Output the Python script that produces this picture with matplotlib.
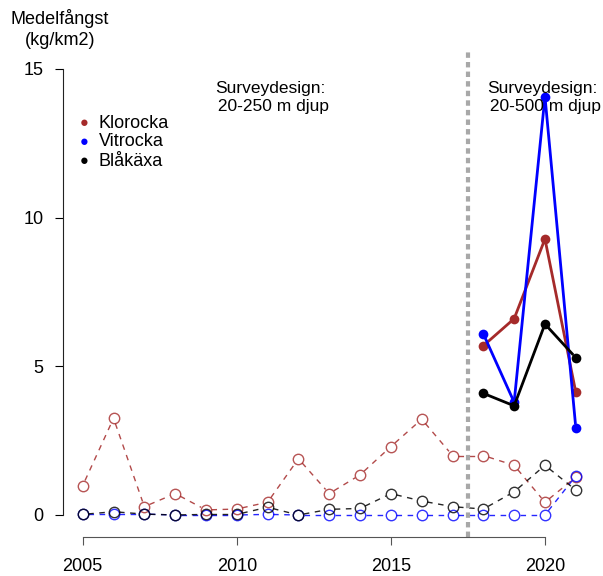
import numpy as np
import matplotlib.pyplot as plt

plt.rcParams['font.family'] = ['Liberation Sans', 'DejaVu Sans']

# old survey design (open circles, dashed)
years_old = list(range(2005, 2022))
klorocka_old = [0.99, 3.25, 0.28, 0.72, 0.17, 0.2, 0.43, 1.89, 0.72, 1.35, 2.3, 3.22, 2.0, 2.0, 1.67, 0.43, 1.27]
vitrocka_old = [0.03, 0.03, 0.03, 0.0, 0.0, 0.0, 0.02, 0.0, 0.0, 0.0, 0.0, 0.0, 0.0, 0.0, 0.0, 0.0, 1.31]
blakaxa_old = [0.02, 0.11, 0.03, 0.0, 0.02, 0.02, 0.26, 0.0, 0.19, 0.22, 0.72, 0.47, 0.28, 0.2, 0.78, 1.67, 0.84]

# new survey design (filled points, solid)
years_new = [2018, 2019, 2020, 2021]
klorocka_new = [5.69, 6.6, 9.28, 4.13]
vitrocka_new = [6.09, 3.79, 14.07, 2.94]
blakaxa_new = [4.09, 3.67, 6.42, 5.29]

species = ['Klorocka', 'Vitrocka', 'Blåkäxa']
colors = ['#A52A2A', '#0000FF', '#000000']
design_change = 2017.5
fs = 13

fig = plt.figure(figsize=(6.03, 5.76), dpi=100)
W, H = 603, 576
ax = fig.add_axes([63 / W, 1 - 537 / H, (595.5 - 63) / W, (537 - 51) / H])
ax.set_xlim(2004.36, 2021.64)
ax.set_ylim(-0.74, 15.6)


def gapped(x, y, gap, **kw):
    # like R type="b": line segments stop short of the points
    pts = ax.transData.transform(np.column_stack([x, y]))
    inv = ax.transData.inverted()
    for a, b in zip(pts[:-1], pts[1:]):
        d = b - a
        L = np.hypot(*d)
        if L <= 2 * gap:
            continue
        u = d / L
        seg = inv.transform(np.array([a + u * gap, b - u * gap]))
        ax.plot(seg[:, 0], seg[:, 1], **kw)


old = [klorocka_old, vitrocka_old, blakaxa_old]
new = [klorocka_new, vitrocka_new, blakaxa_new]
for vals, c in zip(old, colors):
    gapped(years_old, vals, 5.5, color=c, lw=1, dashes=(4, 4), alpha=0.85)
    ax.plot(years_old, vals, 'o', ms=7.5, mfc='none', mec=c, mew=1, alpha=0.8)
for vals, c in zip(new, colors):
    gapped(years_new, vals, 5.0, color=c, lw=2)
    ax.plot(years_new, vals, 'o', ms=7, color=c, mec='none')

ax.axvline(design_change, color='#A8A8A8', lw=3, dashes=(1.3, 1.0))

ax.text(2011.1, 14.04, 'Surveydesign:\n 20-250 m djup', ha='center', va='center',
        fontsize=12.5, linespacing=1.2)
ax.text(2019.93, 14.04, 'Surveydesign:\n 20-500 m djup', ha='center', va='center',
        fontsize=12.5, linespacing=1.2)

for i, (name, c) in enumerate(zip(species, colors)):
    yy = 1 - (123 + 19 * i) / H
    fig.text(84 / W, yy, '\u25CF', color=c, fontsize=10.5, ha='center', va='center')
    fig.text(99 / W, yy, name, fontsize=fs, va='center')

fig.text(60 / W, 1 - 29 / H, 'Medelfångst\n(kg/km2)', ha='center', va='center',
         fontsize=fs, linespacing=1.3)

for s in ['top', 'right']:
    ax.spines[s].set_visible(False)
ax.spines['left'].set_bounds(0, 15)
ax.spines['bottom'].set_bounds(2005, 2020)
ax.spines['left'].set_color('#222222')
ax.spines['bottom'].set_color('#555555')
ax.set_xticks([2005, 2010, 2015, 2020])
ax.set_yticks([0, 5, 10, 15])
ax.tick_params(labelsize=fs, length=6, pad=8)
ax.tick_params(axis='x', colors='#555555', labelcolor='black', pad=9)

fig.savefig('out.png', dpi=100)
